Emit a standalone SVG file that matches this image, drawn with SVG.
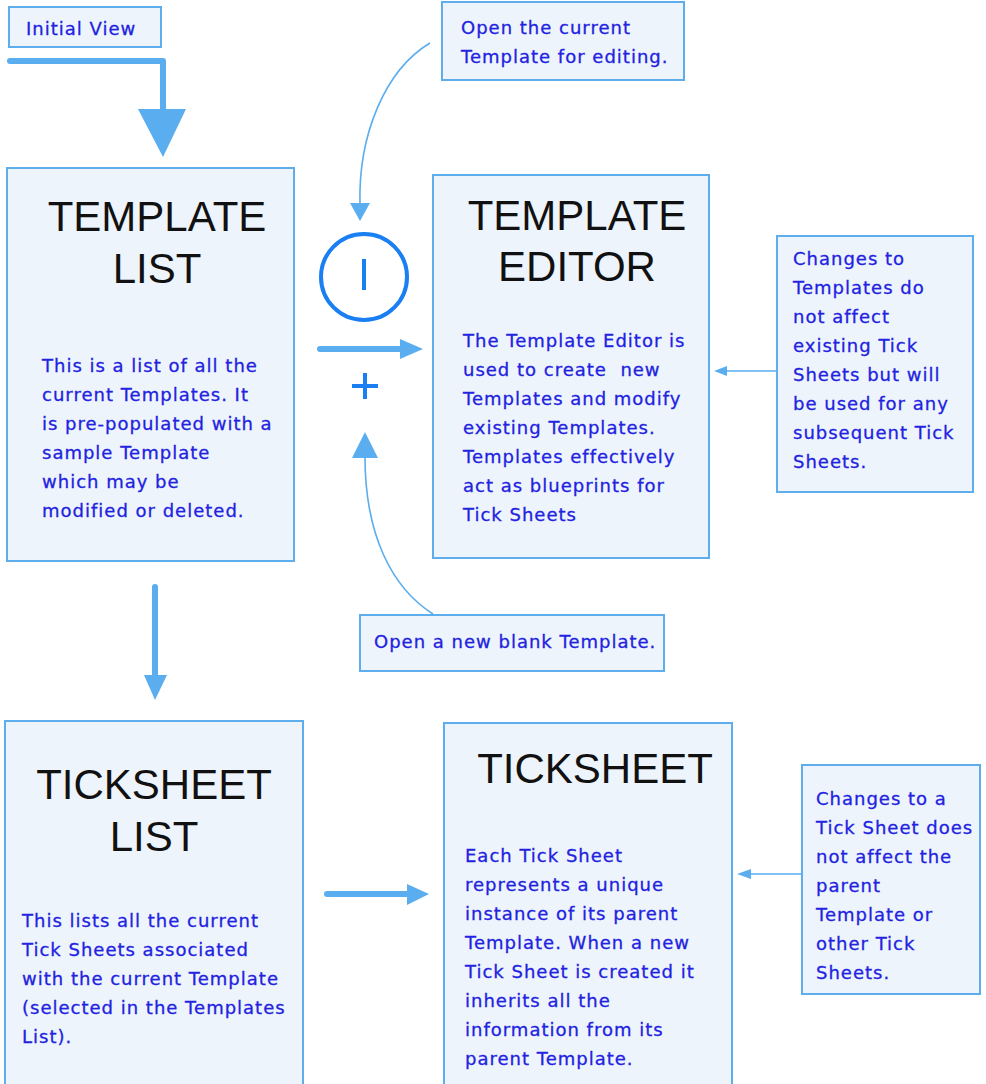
<svg xmlns="http://www.w3.org/2000/svg" width="986" height="1084" viewBox="0 0 986 1084">
<style>
.box{fill:#edf4fc;stroke:#5eaeee;stroke-width:2}
.title{font-family:"Liberation Sans",Arial,sans-serif;font-size:42px;fill:#111;text-anchor:middle}
.hand{font-family:"DejaVu Sans","Liberation Sans",sans-serif;font-size:18px;fill:#2222e0;letter-spacing:1px;stroke:#2222e0;stroke-width:0.3}
.thick{fill:none;stroke:#5aadee;stroke-width:6;stroke-linecap:round;stroke-linejoin:round}
.thin{fill:none;stroke:#5aadee;stroke-width:1.6}
.head{fill:#5aadee}
.sym{fill:none;stroke:#1a7ff2;stroke-width:4}
</style>
<rect width="986" height="1084" fill="#ffffff"/>

<g id="initial-view">
<rect class="box" x="9" y="7" width="152" height="40"/>
<text class="hand" x="26" y="35">Initial View</text>
</g>

<g id="template-list">
<rect class="box" x="7" y="168" width="287" height="393"/>
<text class="title" x="157" y="231">TEMPLATE</text>
<text class="title" x="157" y="283">LIST</text>
<text class="hand" x="42" y="372">This is a list of all the</text>
<text class="hand" x="42" y="401">current Templates. It</text>
<text class="hand" x="42" y="430">is pre-populated with a</text>
<text class="hand" x="42" y="459">sample Template</text>
<text class="hand" x="42" y="488">which may be</text>
<text class="hand" x="42" y="517">modified or deleted.</text>
</g>

<g id="note-open-current">
<rect class="box" x="442" y="2" width="242" height="78"/>
<text class="hand" x="461" y="34">Open the current</text>
<text class="hand" x="461" y="63">Template for editing.</text>
</g>

<g id="template-editor">
<rect class="box" x="433" y="175" width="276" height="383"/>
<text class="title" x="577" y="230">TEMPLATE</text>
<text class="title" x="577" y="281">EDITOR</text>
<text class="hand" x="463" y="347">The Template Editor is</text>
<text class="hand" x="463" y="376" xml:space="preserve">used to create  new</text>
<text class="hand" x="463" y="405">Templates and modify</text>
<text class="hand" x="463" y="434">existing Templates.</text>
<text class="hand" x="463" y="463">Templates effectively</text>
<text class="hand" x="463" y="492">act as blueprints for</text>
<text class="hand" x="463" y="521">Tick Sheets</text>
</g>

<g id="note-template-changes">
<rect class="box" x="777" y="236" width="196" height="256"/>
<text class="hand" x="793" y="265">Changes to</text>
<text class="hand" x="793" y="294">Templates do</text>
<text class="hand" x="793" y="323">not affect</text>
<text class="hand" x="793" y="352">existing Tick</text>
<text class="hand" x="793" y="381">Sheets but will</text>
<text class="hand" x="793" y="410">be used for any</text>
<text class="hand" x="793" y="439">subsequent Tick</text>
<text class="hand" x="793" y="468">Sheets.</text>
</g>

<g id="edit-symbol">
<circle class="sym" cx="364" cy="277" r="43"/>
<line class="sym" x1="364" y1="259" x2="364" y2="290" stroke-width="3.5"/>
</g>

<g id="new-symbol">
<line class="sym" x1="352" y1="386" x2="378" y2="386" stroke-width="3"/>
<line class="sym" x1="365" y1="373" x2="365" y2="399" stroke-width="3"/>
</g>

<g id="note-open-new">
<rect class="box" x="360" y="615" width="304" height="56"/>
<text class="hand" x="374" y="648">Open a new blank Template.</text>
</g>

<g id="ticksheet-list">
<rect class="box" x="5" y="721" width="298" height="380"/>
<text class="title" x="154" y="799">TICKSHEET</text>
<text class="title" x="154" y="851">LIST</text>
<text class="hand" x="22" y="927">This lists all the current</text>
<text class="hand" x="22" y="956">Tick Sheets associated</text>
<text class="hand" x="22" y="985">with the current Template</text>
<text class="hand" x="22" y="1014">(selected in the Templates</text>
<text class="hand" x="22" y="1043">List).</text>
</g>

<g id="ticksheet">
<rect class="box" x="444" y="723" width="288" height="380"/>
<text class="title" x="595" y="783">TICKSHEET</text>
<text class="hand" x="465" y="862">Each Tick Sheet</text>
<text class="hand" x="465" y="891">represents a unique</text>
<text class="hand" x="465" y="920">instance of its parent</text>
<text class="hand" x="465" y="949">Template. When a new</text>
<text class="hand" x="465" y="978">Tick Sheet is created it</text>
<text class="hand" x="465" y="1007">inherits all the</text>
<text class="hand" x="465" y="1036">information from its</text>
<text class="hand" x="465" y="1065">parent Template.</text>
</g>

<g id="note-ticksheet-changes">
<rect class="box" x="802" y="765" width="178" height="229"/>
<text class="hand" x="816" y="805">Changes to a</text>
<text class="hand" x="816" y="834">Tick Sheet does</text>
<text class="hand" x="816" y="863">not affect the</text>
<text class="hand" x="816" y="892">parent</text>
<text class="hand" x="816" y="921">Template or</text>
<text class="hand" x="816" y="950">other Tick</text>
<text class="hand" x="816" y="979">Sheets.</text>
</g>

<g id="connectors">
<path class="thick" d="M10,61 H163 V110"/>
<polygon class="head" points="138,109 186,109 163,157"/>

<path class="thin" d="M430,43 C385,70 358,135 360,205"/>
<polygon class="head" points="350,203 370,203 360,221"/>

<path class="thick" d="M320,349 H402"/>
<polygon class="head" points="400,339 423,349 400,359"/>

<path class="thin" d="M433,614 C392,588 365,535 365,457"/>
<polygon class="head" points="352,458 378,458 365,432"/>

<path class="thin" d="M777,371 H726"/>
<polygon class="head" points="727,366 714,371 727,376"/>

<path class="thick" d="M155,587 V676"/>
<polygon class="head" points="144,675 167,675 155,700"/>

<path class="thick" d="M327,894 H409"/>
<polygon class="head" points="407,884 429,894 407,905"/>

<path class="thin" d="M801,874 H750"/>
<polygon class="head" points="751,869 737,874 751,879"/>
</g>
</svg>
